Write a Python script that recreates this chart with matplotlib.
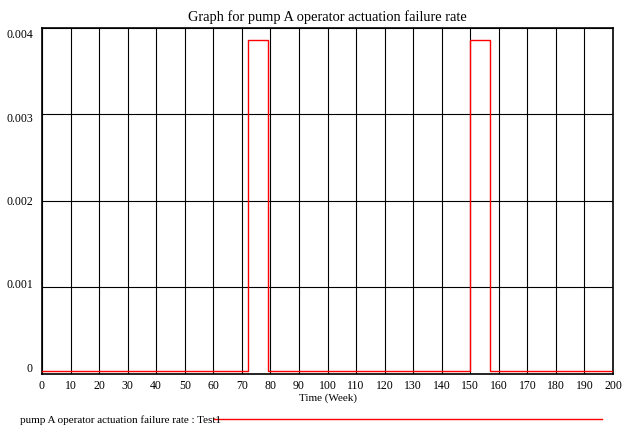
import matplotlib
matplotlib.use("Agg")
import matplotlib.pyplot as plt
import matplotlib.transforms as mtransforms

# step changes of the failure rate (value holds until the next time)
times = [0, 72, 79, 150, 157, 200]
rates = [0.00003, 0.00385, 0.00003, 0.00385, 0.00003, 0.00003]

x_ticks = list(range(0, 201, 10))
y_ticks = [0, 0.001, 0.002, 0.003, 0.004]
y_labels = ["0", "0.001", "0.002", "0.003", "0.004"]

title = "Graph for pump A operator actuation failure rate"
xlabel = "Time (Week)"
legend_text = "pump A operator actuation failure rate : Test1"

plt.rcParams['font.family'] = ['Liberation Serif', 'DejaVu Serif']

fig = plt.figure(figsize=(6.23, 4.32), dpi=100)
ax = fig.add_axes([0.0674, 0.1354, 0.9166, 0.8009])

ax.step(times, rates, where='post', color='red', linewidth=1.0, zorder=3)

ax.set_xlim(0, 200)
ax.set_ylim(0, 0.004)
ax.set_xticks(x_ticks)
ax.set_yticks(y_ticks)
ax.set_yticklabels(y_labels)
ax.tick_params(length=0, labelsize=8.5)
ax.tick_params(axis='x', pad=4.5)
ax.tick_params(axis='y', pad=6.5)
ax.grid(True, color='black', linewidth=0.8)
for s in ax.spines.values():
    s.set_linewidth(1.2)
    s.set_color('black')

# y labels are pulled inwards towards the middle of the axis
shifts = [6, 3.4, 0, -3.7, -6]  # pixels, up is positive
for lbl, dy in zip(ax.get_yticklabels(), shifts):
    lbl.set_transform(lbl.get_transform() +
                      mtransforms.ScaledTranslation(0, dy / 100, fig.dpi_scale_trans))

ax.set_title(title, fontsize=10.4, pad=5)
ax.set_xlabel(xlabel, fontsize=8, labelpad=1)

fig.text(20 / 623, 1 - 420 / 432, legend_text, fontsize=8, va='center', ha='left')
fig.add_artist(plt.Line2D([214 / 623, 602 / 623], [1 - 419 / 432, 1 - 419 / 432],
                          color='red', linewidth=1.0, transform=fig.transFigure))

fig.savefig("out.png", dpi=100)
